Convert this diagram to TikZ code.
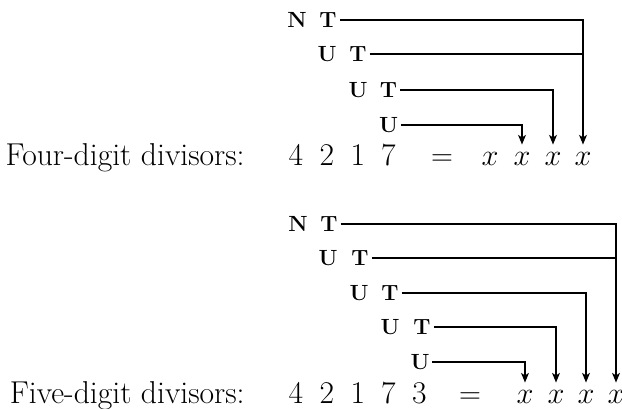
\documentclass[tikz,border=0pt]{standalone}
\usepackage{tikz}
\usetikzlibrary{arrows.meta}
\tikzset{
  txt/.style={font=\fontsize{18}{22}\selectfont, inner sep=0pt, anchor=base},
  lbl/.style={txt, anchor=base east},
  dig/.style={txt},
  var/.style={txt, inner ysep=4pt},
  bld/.style={font=\fontsize{12.5}{14}\selectfont\bfseries, inner sep=1.5pt},
  wire/.style={line width=0.8pt, draw=black},
  arr/.style={wire, -{Stealth[length=5.5pt, width=4.5pt, inset=1.5pt]}},
}
\begin{document}
\begin{tikzpicture}
  \useasboundingbox (0,0) rectangle (12.44,8.16);
  % four-digit divisors
  \node[lbl] (four) at (4.90,4.86) {Four-digit divisors:};
  \node[dig] (a1) at (5.92,4.86) {4};
  \node[dig] (a2) at (6.54,4.86) {2};
  \node[dig] (a3) at (7.16,4.86) {1};
  \node[dig] (a4) at (7.77,4.86) {7};
  \node[dig] (aeq) at (8.84,4.86) {$=$};
  \node[var] (ax1) at (9.80,4.86) {$x$};
  \node[var] (ax2) at (10.44,4.86) {$x$};
  \node[var] (ax3) at (11.06,4.86) {$x$};
  \node[var] (ax4) at (11.66,4.86) {$x$};
  \node[bld] (an1) at (5.94,7.76) {N};
  \node[bld] (at1) at (6.56,7.76) {T};
  \node[bld] (au2) at (6.54,7.08) {U};
  \node[bld] (at2) at (7.16,7.08) {T};
  \node[bld] (au3) at (7.16,6.36) {U};
  \node[bld] (at3) at (7.77,6.36) {T};
  \node[bld] (au4) at (7.77,5.66) {U};
  \draw[arr] (at1.east) -| (ax4.north);
  \draw[wire] (at2.east) -- (at2.east -| ax4.north);
  \draw[arr] (at3.east) -| (ax3.north);
  \draw[arr] (au4.east) -| (ax2.north);
  % five-digit divisors
  \node[lbl] (five) at (4.90,0.10) {Five-digit divisors:};
  \node[dig] (b1) at (5.92,0.10) {4};
  \node[dig] (b2) at (6.54,0.10) {2};
  \node[dig] (b3) at (7.16,0.10) {1};
  \node[dig] (b4) at (7.77,0.10) {7};
  \node[dig] (b5) at (8.39,0.10) {3};
  \node[dig] (beq) at (9.40,0.10) {$=$};
  \node[var] (bx1) at (10.50,0.10) {$x$};
  \node[var] (bx2) at (11.12,0.10) {$x$};
  \node[var] (bx3) at (11.72,0.10) {$x$};
  \node[var] (bx4) at (12.32,0.10) {$x$};
  \node[bld] (bn1) at (5.96,3.68) {N};
  \node[bld] (bt1) at (6.58,3.68) {T};
  \node[bld] (bu2) at (6.56,3.00) {U};
  \node[bld] (bt2) at (7.20,3.00) {T};
  \node[bld] (bu3) at (7.18,2.30) {U};
  \node[bld] (bt3) at (7.80,2.30) {T};
  \node[bld] (bu4) at (7.80,1.62) {U};
  \node[bld] (bt4) at (8.44,1.62) {T};
  \node[bld] (bu5) at (8.40,0.92) {U};
  \draw[arr] (bt1.east) -| (bx4.north);
  \draw[wire] (bt2.east) -- (bt2.east -| bx4.north);
  \draw[arr] (bt3.east) -| (bx3.north);
  \draw[arr] (bt4.east) -| (bx2.north);
  \draw[arr] (bu5.east) -| (bx1.north);
\end{tikzpicture}
\end{document}
